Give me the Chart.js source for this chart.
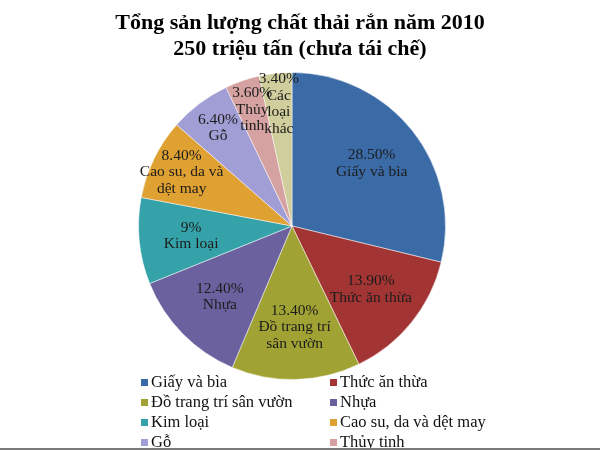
<!DOCTYPE html>
<html>
<head>
<meta charset="utf-8">
<script src="https://cdn.jsdelivr.net/npm/chart.js@4/dist/chart.umd.min.js"></script>
<style>
  html, body { margin: 0; padding: 0; background: #fff; }
  #wrap { width: 600px; height: 450px; position: relative; }
</style>
</head>
<body>
<div id="wrap"><canvas id="pieChart"></canvas></div>
<script>
// ---- data ----
const titleLines = ["Tổng sản lượng chất thải rắn năm 2010", "250 triệu tấn (chưa tái chế)"];
const categories = [
  "Giấy và bìa", "Thức ăn thừa", "Đồ trang trí sân vườn", "Nhựa", "Kim loại",
  "Cao su, da và dệt may", "Gỗ", "Thủy tinh", "Các loại khác"
];
const shares = [28.5, 13.9, 13.4, 12.4, 9, 8.4, 6.4, 3.6, 3.4];
const shareLabels = ["28.50%", "13.90%", "13.40%", "12.40%", "9%", "8.40%", "6.40%", "3.60%", "3.40%"];
// slice labels wrapped as in the picture
const sliceNames = [
  ["Giấy và bìa"], ["Thức ăn thừa"], ["Đồ trang trí", "sân vườn"], ["Nhựa"], ["Kim loại"],
  ["Cao su, da và", "dệt may"], ["Gỗ"], ["Thủy", "tinh"], ["Các", "loại", "khác"]
];
const colors = [
  "#3B6BA7", "#A23534", "#A0A233", "#6C619F", "#34A2A8",
  "#DFA132", "#A19DD5", "#D5A1A1", "#CFCE9C"
];

const SERIF = "'Liberation Serif', 'DejaVu Serif', serif";

// title, slice labels, legend and bottom rule
const decorPlugin = {
  id: "decor",
  afterDatasetsDraw(chart) {
    const ctx = chart.ctx;
    const meta = chart.getDatasetMeta(0);
    ctx.save();
    ctx.textAlign = "center";
    ctx.textBaseline = "middle";
    ctx.fillStyle = "#1c1c1c";
    ctx.font = "15.5px " + SERIF;
    meta.data.forEach((arc, i) => {
      const frac = shares[i] < 9 ? 0.8 : 0.66;
      const p = arc.getProps(["x", "y", "startAngle", "endAngle", "outerRadius"], true);
      const mid = (p.startAngle + p.endAngle) / 2;
      const r = p.outerRadius * frac;
      const cx = p.x + Math.cos(mid) * r;
      const cy = p.y + Math.sin(mid) * r;
      const lines = [shareLabels[i]].concat(sliceNames[i]);
      const lh = 16.5;
      const y0 = cy - (lines.length - 1) * lh / 2;
      lines.forEach((t, k) => ctx.fillText(t, cx, y0 + k * lh));
    });
    ctx.restore();
  },
  afterDraw(chart) {
    const ctx = chart.ctx;
    ctx.save();
    // title
    ctx.textAlign = "center";
    ctx.textBaseline = "middle";
    ctx.fillStyle = "#000";
    ctx.font = "bold 22px " + SERIF;
    ctx.fillText(titleLines[0], 300, 23);
    ctx.fillText(titleLines[1], 300, 49);

    // legend, two columns
    ctx.textAlign = "left";
    ctx.font = "16.5px " + SERIF;
    categories.forEach((name, i) => {
      const col = i % 2;
      const row = Math.floor(i / 2);
      const x = col === 0 ? 141 : 330;
      const y = 383 + row * 20;
      ctx.fillStyle = colors[i];
      ctx.fillRect(x, y - 4, 7, 7);
      ctx.fillStyle = "#111";
      ctx.fillText(name, x + 10, y);
    });

    // bottom rule
    ctx.fillStyle = "#7a7a7a";
    ctx.fillRect(0, 448, 600, 2);
    ctx.restore();
  }
};

new Chart(document.getElementById("pieChart"), {
  type: "pie",
  data: {
    labels: categories,
    datasets: [{
      data: shares,
      backgroundColor: colors,
      borderColor: "rgba(255,255,255,0.5)",
      borderWidth: 1
    }]
  },
  options: {
    responsive: true,
    maintainAspectRatio: false,
    animation: false,
    layout: { padding: { top: 72, bottom: 70, left: 138, right: 154 } },
    plugins: {
      legend: { display: false },
      title: { display: false },
      tooltip: { enabled: false }
    }
  },
  plugins: [decorPlugin]
});
</script>
</body>
</html>
